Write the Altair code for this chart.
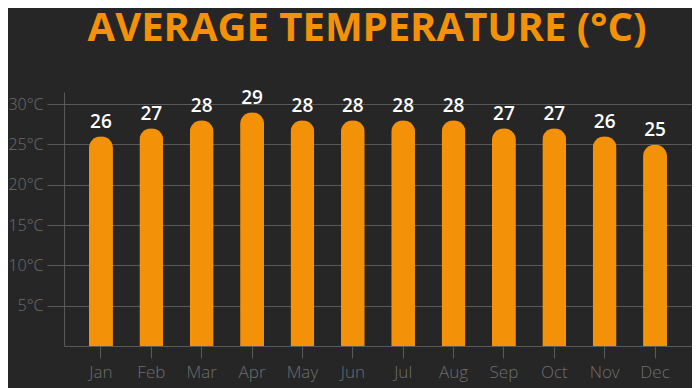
import altair as alt
import pandas as pd

months = ["Jan", "Feb", "Mar", "Apr", "May", "Jun", "Jul", "Aug", "Sep", "Oct", "Nov", "Dec"]
temps = [26, 27, 28, 29, 28, 28, 28, 28, 27, 27, 26, 25]
y_ticks = [5, 10, 15, 20, 25, 30]
title_text = ["AVERAGE TEMPERATURE (°C)"]

df = pd.DataFrame({"month": months, "temp": temps})
tdf = pd.DataFrame({"t": title_text})

ORANGE = "#F39208"
GRID = "#595959"
LABEL = "#6e6e6e"
FONT = "Open Sans"

x = alt.X("month:N", sort=months, title=None,
          scale=alt.Scale(paddingInner=0.524, paddingOuter=0.496),
          axis=alt.Axis(labelAngle=0, tickSize=12, tickColor=GRID, domainColor=GRID,
                        labelColor=LABEL, labelFontSize=17, labelFont=FONT,
                        labelFontWeight=300, labelPadding=6, grid=False))
y = alt.Y("temp:Q", title=None,
          scale=alt.Scale(domain=[0, 31.5], nice=False),
          axis=alt.Axis(values=y_ticks, labelExpr="datum.value + '°C'",
                        tickSize=17, tickColor=GRID, domainColor=GRID,
                        gridColor=GRID, labelColor=LABEL, labelFontSize=16,
                        labelFont=FONT, labelFontWeight=300, labelPadding=4))

bars = alt.Chart(df).mark_bar(color=ORANGE, cornerRadiusTopLeft=12,
                              cornerRadiusTopRight=12).encode(x=x, y=y)
labels = alt.Chart(df).mark_text(color="white", font=FONT, fontWeight=600,
                                 fontSize=19, baseline="alphabetic", dy=-8).encode(
    x=alt.X("month:N", sort=months), y=alt.Y("temp:Q"), text="temp:Q")
title = alt.Chart(tdf).mark_text(color=ORANGE, font=FONT, fontWeight="bold",
                                 fontSize=40, baseline="alphabetic", align="center").encode(
    x=alt.value(303), y=alt.value(-51), text="t:N")

chart = alt.layer(bars, labels, title).properties(
    width=628, height=254,
    autosize=alt.AutoSizeParams(type="none"),
    padding={"left": 56, "top": 84, "right": 0, "bottom": 42},
    background="#262626",
).configure_view(stroke=None)

chart.save("out.html", embed_options={"renderer": "svg", "actions": False})
